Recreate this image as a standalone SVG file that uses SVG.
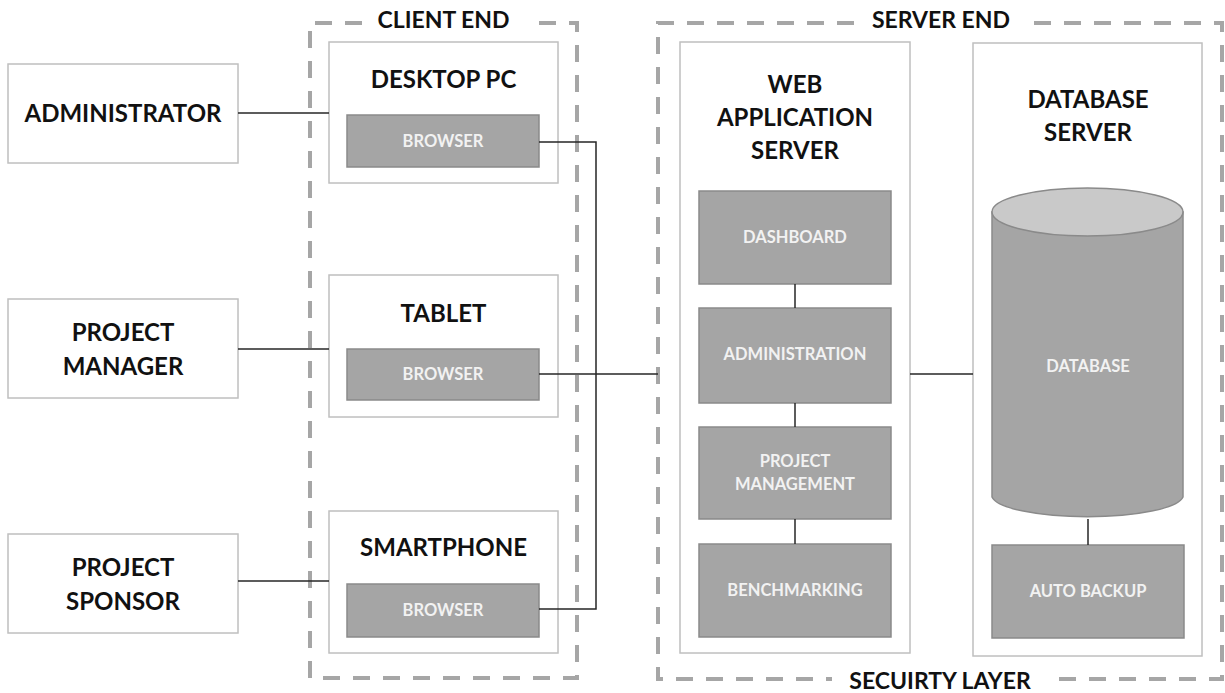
<svg xmlns="http://www.w3.org/2000/svg" width="1225" height="693" viewBox="0 0 1225 693">
<style>
.bg{fill:#ffffff}
.outer{fill:#ffffff;stroke:#bfbfbf;stroke-width:1.5}
.inner{fill:#a5a5a5;stroke:#8a8a8a;stroke-width:1.5}
.dash{fill:none;stroke:#a6a6a6;stroke-width:4;stroke-dasharray:17 13}
.conn{fill:none;stroke:#262626;stroke-width:1.5}
.big{font-family:Lato,"Liberation Sans",sans-serif;font-weight:bold;font-size:24px;fill:#111111;text-anchor:middle}
.title{font-family:Lato,"Liberation Sans",sans-serif;font-weight:bold;font-size:23px;fill:#111111;text-anchor:middle}
.small{font-family:Lato,"Liberation Sans",sans-serif;font-weight:bold;font-size:16.5px;fill:#f2f2f2;text-anchor:middle}
</style>
<rect class="bg" x="0" y="0" width="1225" height="693"/>

<g id="client-end">
<path class="dash" d="M362 23 H310 V678 H577 V23 H527"/>
<text class="title" x="443.5" y="28">CLIENT END</text>
</g>
<g id="server-end">
<path class="dash" d="M854 23 H658 V679 H832"/>
<path class="dash" d="M1034 23 H1222 V679 H1049"/>
<text class="title" x="941" y="28">SERVER END</text>
<text class="title" x="940" y="689">SECUIRTY LAYER</text>
</g>

<g id="administrator">
<rect class="outer" x="8" y="64" width="230" height="99"/>
<text class="big" x="123" y="122">ADMINISTRATOR</text>
</g>
<g id="project-manager">
<rect class="outer" x="8" y="299" width="230" height="99"/>
<text class="big" x="123" y="341">PROJECT</text>
<text class="big" x="123" y="375">MANAGER</text>
</g>
<g id="project-sponsor">
<rect class="outer" x="8" y="534" width="230" height="99"/>
<text class="big" x="123" y="576">PROJECT</text>
<text class="big" x="123" y="610">SPONSOR</text>
</g>

<g id="desktop-pc">
<rect class="outer" x="329" y="42" width="229" height="141"/>
<text class="big" x="443.5" y="88">DESKTOP PC</text>
<rect class="inner" x="347" y="115" width="192" height="52"/>
<text class="small" x="443" y="147">BROWSER</text>
</g>
<g id="tablet">
<rect class="outer" x="329" y="275" width="229" height="142"/>
<text class="big" x="443.5" y="322">TABLET</text>
<rect class="inner" x="347" y="349" width="192" height="51"/>
<text class="small" x="443" y="380">BROWSER</text>
</g>
<g id="smartphone">
<rect class="outer" x="329" y="511" width="229" height="142"/>
<text class="big" x="443.5" y="556">SMARTPHONE</text>
<rect class="inner" x="347" y="584" width="192" height="53"/>
<text class="small" x="443" y="616">BROWSER</text>
</g>

<g id="web-application-server">
<rect class="outer" x="680" y="42" width="230" height="611"/>
<text class="big" x="795" y="93">WEB</text>
<text class="big" x="795" y="126">APPLICATION</text>
<text class="big" x="795" y="159">SERVER</text>
</g>
<g id="dashboard">
<rect class="inner" x="699" y="191" width="192" height="93"/>
<text class="small" x="795" y="243">DASHBOARD</text>
</g>
<g id="administration">
<rect class="inner" x="699" y="308" width="192" height="95"/>
<text class="small" x="795" y="360">ADMINISTRATION</text>
</g>
<g id="project-management">
<rect class="inner" x="699" y="427" width="192" height="92"/>
<text class="small" x="795" y="467">PROJECT</text>
<text class="small" x="795" y="490">MANAGEMENT</text>
</g>
<g id="benchmarking">
<rect class="inner" x="699" y="544" width="192" height="93"/>
<text class="small" x="795" y="596">BENCHMARKING</text>
</g>

<g id="database-server">
<rect class="outer" x="973" y="43" width="229" height="613"/>
<text class="big" x="1088" y="108">DATABASE</text>
<text class="big" x="1088" y="141">SERVER</text>
</g>
<g id="database">
<path class="inner" d="M992 212 V497 A96 22 0 0 0 1183 497 V212 Z"/>
<ellipse cx="1087.5" cy="212" rx="95.5" ry="24" fill="#c9c9c9" stroke="#8a8a8a" stroke-width="1.5"/>
<text class="small" x="1088" y="372">DATABASE</text>
</g>
<g id="auto-backup">
<rect class="inner" x="992" y="545" width="192" height="93"/>
<text class="small" x="1088" y="597">AUTO BACKUP</text>
</g>

<g id="connectors">
<line class="conn" x1="238" y1="113" x2="329" y2="113"/>
<line class="conn" x1="238" y1="349" x2="329" y2="349"/>
<line class="conn" x1="238" y1="581" x2="329" y2="581"/>
<path class="conn" d="M539 142 H596 V609 H539"/>
<line class="conn" x1="539" y1="374" x2="658" y2="374"/>
<line class="conn" x1="795" y1="284" x2="795" y2="308"/>
<line class="conn" x1="795" y1="403" x2="795" y2="427"/>
<line class="conn" x1="795" y1="519" x2="795" y2="544"/>
<line class="conn" x1="910" y1="374" x2="973" y2="374"/>
<line class="conn" x1="1088" y1="519" x2="1088" y2="545"/>
</g>
</svg>
